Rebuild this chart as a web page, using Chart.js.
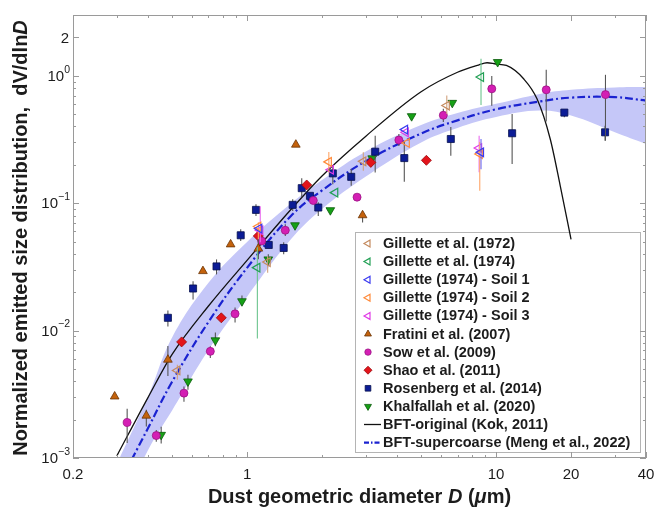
<!DOCTYPE html>
<html>
<head>
<meta charset="utf-8">
<script src="https://cdn.jsdelivr.net/npm/chart.js@4.4.0/dist/chart.umd.min.js"></script>
<style>
  html, body { margin: 0; padding: 0; background: #fff; }
  canvas { display: block; }
</style>
</head>
<body>
<canvas id="chart" width="657" height="509"></canvas>
<script>
// Axis ranges and tick labels
const xMin = 0.2, xMax = 40, yMin = 0.001, yMax = 3;
const xTickVals = [0.2, 1, 10, 20, 40];
const xTickLabels = ['0.2', '1', '10', '20', '40'];
const yTickVals = [0.001, 0.01, 0.1, 1, 2];
const yTickLabels = ['10^\u22123', '10^\u22122', '10^\u22121', '10^0', '2'];

// Gillette et al. (1972)
const g72X = [0.525, 1.21, 2.93, 6.34];
const g72Y = [0.00487, 0.0345, 0.213, 0.584];
const g72Lo = [0.00411, 0.0285, 0.180, 0.502];
const g72Hi = [0.0054, 0.0385, 0.251, 0.700];

// Gillette et al. (1974)
const g74X = [1.10, 2.26, 8.70];
const g74Y = [0.0312, 0.121, 0.977];
const g74Lo = [0.00865, null, 0.591];
const g74Hi = [0.045, null, 1.361];

// Gillette (1974) soils 1-3
const s1X = [1.12, 4.31, 8.70];
const s1Y = [0.0632, 0.378, 0.251];
const s1Lo = [null, null, 0.185];
const s1Hi = [null, null, 0.319];

const s2X = [1.11, 2.13, 4.38, 8.60];
const s2Y = [0.0655, 0.211, 0.297, 0.243];
const s2Lo = [0.0521, 0.175, null, 0.125];
const s2Hi = [0.0709, 0.252, null, 0.302];

const s3X = [1.13, 2.17, 4.34, 8.55];
const s3Y = [0.0613, 0.183, 0.360, 0.271];
const s3Lo = [0.0493, null, null, 0.175];
const s3Hi = [0.0947, null, null, 0.339];

// Fratini et al. (2007)
const frX = [0.294, 0.394, 0.481, 0.665, 0.859, 1.11, 1.57, 2.91];
const frY = [0.00304, 0.00215, 0.00591, 0.0293, 0.0475, 0.0440, 0.288, 0.0804];
const frLo = [null, 0.00177, 0.0044, null, null, 0.0363, null, 0.0705];
const frHi = [null, 0.00239, 0.00756, null, null, 0.0539, null, 0.087];

// Sow et al. (2009)
const sowX = [0.330, 0.432, 0.558, 0.712, 0.895, 1.145, 1.424, 1.845, 2.765, 4.07, 6.14, 9.61, 15.9, 27.5];
const sowY = [0.0019, 0.0015, 0.00323, 0.00687, 0.01353, 0.0505, 0.0613, 0.105, 0.1115, 0.313, 0.490, 0.790, 0.776, 0.712];
const sowLo = [0.00131, 0.00134, 0.00277, 0.0061, 0.01156, null, 0.0553, null, null, 0.281, 0.434, 0.583, 0.437, 0.31];
const sowHi = [0.00243, 0.00166, 0.00364, 0.00752, 0.01517, null, 0.0683, null, null, 0.349, 0.55, 0.995, 1.115, 1.018];

// Shao et al. (2011)
const shX = [0.546, 0.788, 1.11, 1.736, 3.14, 5.25];
const shY = [0.00815, 0.0126, 0.0553, 0.139, 0.209, 0.217];

// Rosenberg et al. (2014)
const roX = [0.481, 0.607, 0.754, 0.943, 1.086, 1.222, 1.403, 1.525, 1.658, 1.789, 1.932, 2.21, 2.62, 3.27, 4.28, 6.58, 11.6, 18.8, 27.4];
const roY = [0.0126, 0.0214, 0.0319, 0.056, 0.0886, 0.047, 0.0445, 0.097, 0.1312, 0.1142, 0.0925, 0.1714, 0.161, 0.2535, 0.226, 0.319, 0.354, 0.514, 0.360];
const roLo = [0.01075, 0.01754, 0.0276, 0.0505, 0.0794, null, 0.0397, 0.087, 0.1115, null, 0.0794, 0.1411, 0.1368, 0.1745, 0.1472, 0.2358, 0.2028, 0.473, 0.3095];
const roHi = [0.01437, 0.0244, 0.0362, 0.0624, 0.0983, null, 0.0493, 0.1075, 0.1573, null, 0.1019, 0.1966, 0.1852, 0.3389, 0.302, 0.3967, 0.502, 0.533, 0.406];

// Khalfallah et al. (2020)
const khX = [0.452, 0.579, 0.746, 0.954, 1.217, 1.558, 2.16, 3.18, 4.58, 6.67, 10.15];
const khY = [0.00152, 0.00399, 0.00839, 0.0170, 0.0362, 0.0671, 0.0881, 0.225, 0.482, 0.613, 1.282];
const khLo = [0.0013, 0.00343, 0.00752, 0.01573, 0.0321, null, null, null, null, null, null];
const khHi = [0.00176, 0.0045, 0.00964, 0.01886, 0.0397, null, null, null, null, null, null];

// BFT-supercoarse fit and its shaded range
const fitX = [0.3, 0.4, 0.5, 0.7, 1, 1.5, 2, 3, 5, 7, 10, 15, 20, 30, 40];
const superY = [0.00058, 0.00171, 0.00397, 0.0117, 0.0311, 0.0794, 0.126, 0.214, 0.352, 0.447, 0.546, 0.629, 0.674, 0.680, 0.639];
const bandHi = [0.0009, 0.00302, 0.00881, 0.0237, 0.0497, 0.0993, 0.152, 0.255, 0.410, 0.510, 0.602, 0.721, 0.776, 0.809, 0.815];
const bandLo = [0.00035, 0.00115, 0.00236, 0.00704, 0.01845, 0.052, 0.090, 0.162, 0.300, 0.390, 0.475, 0.533, 0.487, 0.360, 0.291];

// BFT-original (Kok, 2011)
const kokX = [0.3, 0.4, 0.5, 0.7, 1, 1.5, 2, 3, 5, 7, 8.5, 9.2, 10, 11, 12.9, 14.6, 16.5, 18.1, 20];
const kokY = [0.00104, 0.00298, 0.0065, 0.0156, 0.0356, 0.0892, 0.1637, 0.336, 0.75, 1.066, 1.214, 1.266, 1.236, 1.205, 0.947, 0.659, 0.319, 0.137, 0.052];

const fontFam = "'Liberation Sans', Arial, Helvetica, sans-serif";
const textColor = '#1c1c1c';
const frameColor = '#9a9a9a';

const pts = (xs, ys) => xs.map((x, i) => ({ x: x, y: ys[i] }));

function markerSet(label, xs, ys, lo, hi, st) {
    return {
        type: 'scatter',
        label: label,
        data: pts(xs, ys),
        order: 0,
        pointStyle: st.style,
        pointRotation: st.rot || 0,
        pointRadius: st.r,
        pointBackgroundColor: st.fill,
        pointBorderColor: st.line,
        pointBorderWidth: st.bw,
        errLo: lo,
        errHi: hi,
        errColor: st.err,
        inLegend: true
    };
}

const open = 'rgba(0,0,0,0)';
const datasets = [
    markerSet('Gillette et al. (1972)', g72X, g72Y, g72Lo, g72Hi,
        { style: 'triangle', rot: -90, r: 5, fill: open, line: '#c48a5e', bw: 1.2, err: '#d2a27e' }),
    markerSet('Gillette et al. (1974)', g74X, g74Y, g74Lo, g74Hi,
        { style: 'triangle', rot: -90, r: 5, fill: open, line: '#22a055', bw: 1.2, err: '#6cc48e' }),
    markerSet('Gillette (1974) - Soil 1', s1X, s1Y, s1Lo, s1Hi,
        { style: 'triangle', rot: -90, r: 5, fill: open, line: '#3a3af0', bw: 1.2, err: '#6a6af5' }),
    markerSet('Gillette (1974) - Soil 2', s2X, s2Y, s2Lo, s2Hi,
        { style: 'triangle', rot: -90, r: 5, fill: open, line: '#ff8a3a', bw: 1.2, err: '#ffa668' }),
    markerSet('Gillette (1974) - Soil 3', s3X, s3Y, s3Lo, s3Hi,
        { style: 'triangle', rot: -90, r: 5, fill: open, line: '#e03ce6', bw: 1.2, err: '#ea6cef' }),
    markerSet('Fratini et al. (2007)', frX, frY, frLo, frHi,
        { style: 'triangle', r: 5, fill: '#c4620c', line: '#6a3204', bw: 0.8, err: '#555' }),
    markerSet('Sow et al. (2009)', sowX, sowY, sowLo, sowHi,
        { style: 'circle', r: 4, fill: '#d41fb4', line: '#9c1384', bw: 0.8, err: '#555' }),
    markerSet('Shao et al. (2011)', shX, shY, null, null,
        { style: 'rectRot', r: 5, fill: '#e3141b', line: '#9a0a0e', bw: 0.8, err: '#555' }),
    markerSet('Rosenberg et al. (2014)', roX, roY, roLo, roHi,
        { style: 'rect', r: 5, fill: '#0c1c96', line: '#06104e', bw: 0.8, err: '#555' }),
    markerSet('Khalfallah et al. (2020)', khX, khY, khLo, khHi,
        { style: 'triangle', rot: 180, r: 5, fill: '#16a016', line: '#0a5a0a', bw: 0.8, err: '#555' }),
    {
        type: 'line', label: 'BFT-original (Kok, 2011)', data: pts(kokX, kokY),
        borderColor: '#111', borderWidth: 1.3, pointRadius: 0, fill: false,
        cubicInterpolationMode: 'monotone', order: 1, inLegend: true
    },
    {
        type: 'line', label: 'BFT-supercoarse (Meng et al., 2022)', data: pts(fitX, superY),
        borderColor: '#1a22d0', borderWidth: 2.2, borderDash: [8, 3, 2, 3], pointRadius: 0, fill: false,
        tension: 0.4, order: 1, inLegend: true
    },
    {
        type: 'line', label: 'range upper', data: pts(fitX, bandHi),
        borderWidth: 0, borderColor: 'rgba(0,0,0,0)', pointRadius: 0, fill: false,
        tension: 0.4, order: 2
    },
    {
        type: 'line', label: 'range lower', data: pts(fitX, bandLo),
        borderWidth: 0, borderColor: 'rgba(0,0,0,0)', pointRadius: 0, fill: '-1',
        backgroundColor: '#c5c7f8', tension: 0.4, order: 2
    }
];

// minor + major log tick positions
function logTicks(min, max) {
    const out = [];
    for (let e = Math.floor(Math.log10(min)); e <= Math.ceil(Math.log10(max)); e++) {
        for (let k = 1; k <= 9; k++) {
            const v = k * Math.pow(10, e);
            if (v >= min * 0.999 && v <= max * 1.001) out.push(v);
        }
    }
    return out;
}
const isMajor = (v, list) => list.some(t => Math.abs(Math.log10(v / t)) < 1e-6);

function drawMarker(ctx, ds, x, y, r) {
    ctx.fillStyle = ds.pointBackgroundColor;
    ctx.strokeStyle = ds.pointBorderColor;
    ctx.lineWidth = ds.pointBorderWidth;
    Chart.helpers.drawPoint(ctx, {
        pointStyle: ds.pointStyle, rotation: ds.pointRotation, radius: r, borderWidth: ds.pointBorderWidth
    }, x, y);
}

function drawRich(ctx, parts, x, y, size) {
    let w = 0;
    parts.forEach(p => {
        ctx.font = (p.i ? 'italic ' : '') + 'bold ' + size + 'px ' + fontFam;
        w += ctx.measureText(p.t).width;
    });
    let cx = x - w / 2;
    ctx.textAlign = 'left';
    parts.forEach(p => {
        ctx.font = (p.i ? 'italic ' : '') + 'bold ' + size + 'px ' + fontFam;
        ctx.fillText(p.t, cx, y);
        cx += ctx.measureText(p.t).width;
    });
}

// error bars under each marker series
const errorBars = {
    id: 'errorBars',
    beforeDatasetDraw(chart, args) {
        const ds = chart.data.datasets[args.index];
        if (!ds.errLo) return;
        const { ctx, chartArea: a, scales: { x, y } } = chart;
        ctx.save();
        ctx.beginPath();
        ctx.rect(a.left, a.top, a.right - a.left, a.bottom - a.top);
        ctx.clip();
        ctx.strokeStyle = ds.errColor;
        ctx.lineWidth = 1.1;
        ds.data.forEach((p, i) => {
            if (ds.errLo[i] == null) return;
            const px = x.getPixelForValue(p.x);
            ctx.beginPath();
            ctx.moveTo(px, y.getPixelForValue(ds.errLo[i]));
            ctx.lineTo(px, y.getPixelForValue(ds.errHi[i]));
            ctx.stroke();
        });
        ctx.restore();
    }
};

// MATLAB-like box, ticks, labels and legend
const axesLook = {
    id: 'axesLook',
    beforeDatasetsDraw(chart) {
        const ctx = chart.ctx;
        const box = { left: 355, top: 232, right: 640, bottom: 452 };
        ctx.save();
        ctx.fillStyle = '#fff';
        ctx.fillRect(box.left, box.top, box.right - box.left, box.bottom - box.top);
        ctx.strokeStyle = '#b4b4b4';
        ctx.lineWidth = 1;
        ctx.strokeRect(box.left + 0.5, box.top + 0.5, box.right - box.left, box.bottom - box.top);
        const entries = chart.data.datasets.filter(d => d.inLegend);
        entries.forEach((ds, i) => {
            const ry = 243.5 + i * 18.1;
            if (ds.type === 'scatter') {
                drawMarker(ctx, ds, 368, ry, ds.pointRadius * 0.8);
            } else {
                ctx.strokeStyle = ds.borderColor;
                ctx.lineWidth = ds.borderWidth;
                ctx.setLineDash(ds.borderDash ? [5, 2, 1.5, 2] : []);
                ctx.beginPath();
                ctx.moveTo(364, ry);
                ctx.lineTo(381, ry);
                ctx.stroke();
                ctx.setLineDash([]);
            }
            ctx.fillStyle = textColor;
            ctx.font = 'bold 14.5px ' + fontFam;
            ctx.textAlign = 'left';
            ctx.textBaseline = 'middle';
            ctx.fillText(ds.label, 383, ry + 0.5);
        });
        ctx.restore();
    },
    afterDatasetsDraw(chart) {
        const { ctx, chartArea: a, scales: { x, y } } = chart;
        ctx.save();
        ctx.strokeStyle = frameColor;
        ctx.lineWidth = 1;
        ctx.strokeRect(a.left + 0.5, a.top + 0.5, a.right - a.left - 1, a.bottom - a.top - 1);
        ctx.beginPath();
        logTicks(xMin, xMax).forEach(v => {
            const px = Math.round(x.getPixelForValue(v)) + 0.5;
            const len = isMajor(v, xTickVals) ? 6 : 3;
            ctx.moveTo(px, a.bottom); ctx.lineTo(px, a.bottom - len);
            ctx.moveTo(px, a.top); ctx.lineTo(px, a.top + len);
        });
        logTicks(yMin, yMax).forEach(v => {
            const py = Math.round(y.getPixelForValue(v)) + 0.5;
            const len = isMajor(v, yTickVals) ? 6 : 3;
            ctx.moveTo(a.left, py); ctx.lineTo(a.left + len, py);
            ctx.moveTo(a.right, py); ctx.lineTo(a.right - len, py);
        });
        ctx.stroke();
        ctx.restore();
    },
    afterDraw(chart) {
        const { ctx, chartArea: a, scales: { x, y } } = chart;
        ctx.save();
        ctx.fillStyle = textColor;
        ctx.textBaseline = 'middle';
        ctx.textAlign = 'center';
        ctx.font = '15px ' + fontFam;
        xTickVals.forEach((v, i) => ctx.fillText(xTickLabels[i], x.getPixelForValue(v), 475));
        yTickVals.forEach((v, i) => {
            const py = y.getPixelForValue(v);
            const parts = yTickLabels[i].split('^');
            ctx.textAlign = 'right';
            if (parts.length === 2) {
                ctx.font = '10.5px ' + fontFam;
                const ew = ctx.measureText(parts[1]).width;
                ctx.fillText(parts[1], 70, py - 6);
                ctx.font = '15px ' + fontFam;
                ctx.fillText(parts[0], 70 - ew, py + 1);
            } else {
                ctx.font = '15px ' + fontFam;
                ctx.fillText(parts[0], 69, py + 1);
            }
        });
        // axis titles
        drawRich(ctx, [
            { t: 'Dust geometric diameter ' }, { t: 'D', i: true }, { t: ' (' },
            { t: '\u03bc', i: true }, { t: 'm)' }
        ], (a.left + a.right) / 2, 497, 20);
        ctx.save();
        ctx.translate(21, 238);
        ctx.rotate(-Math.PI / 2);
        drawRich(ctx, [
            { t: 'Normalized emitted size distribution,  dV/dln' }, { t: 'D', i: true }
        ], 0, 0, 20);
        ctx.restore();
        ctx.restore();
    }
};

new Chart(document.getElementById('chart').getContext('2d'), {
    type: 'scatter',
    data: { datasets: datasets },
    options: {
        responsive: false,
        animation: false,
        devicePixelRatio: 1,
        layout: { padding: { top: 15, right: 11, left: 0, bottom: 0 } },
        plugins: { legend: { display: false }, tooltip: { enabled: false } },
        scales: {
            x: {
                type: 'logarithmic', min: xMin, max: xMax,
                ticks: { display: false }, grid: { display: false }, border: { display: false },
                afterFit(scale) { scale.height = 51; }
            },
            y: {
                type: 'logarithmic', min: yMin, max: yMax,
                ticks: { display: false }, grid: { display: false }, border: { display: false },
                afterFit(scale) { scale.width = 73; }
            }
        }
    },
    plugins: [errorBars, axesLook]
});
</script>
</body>
</html>
